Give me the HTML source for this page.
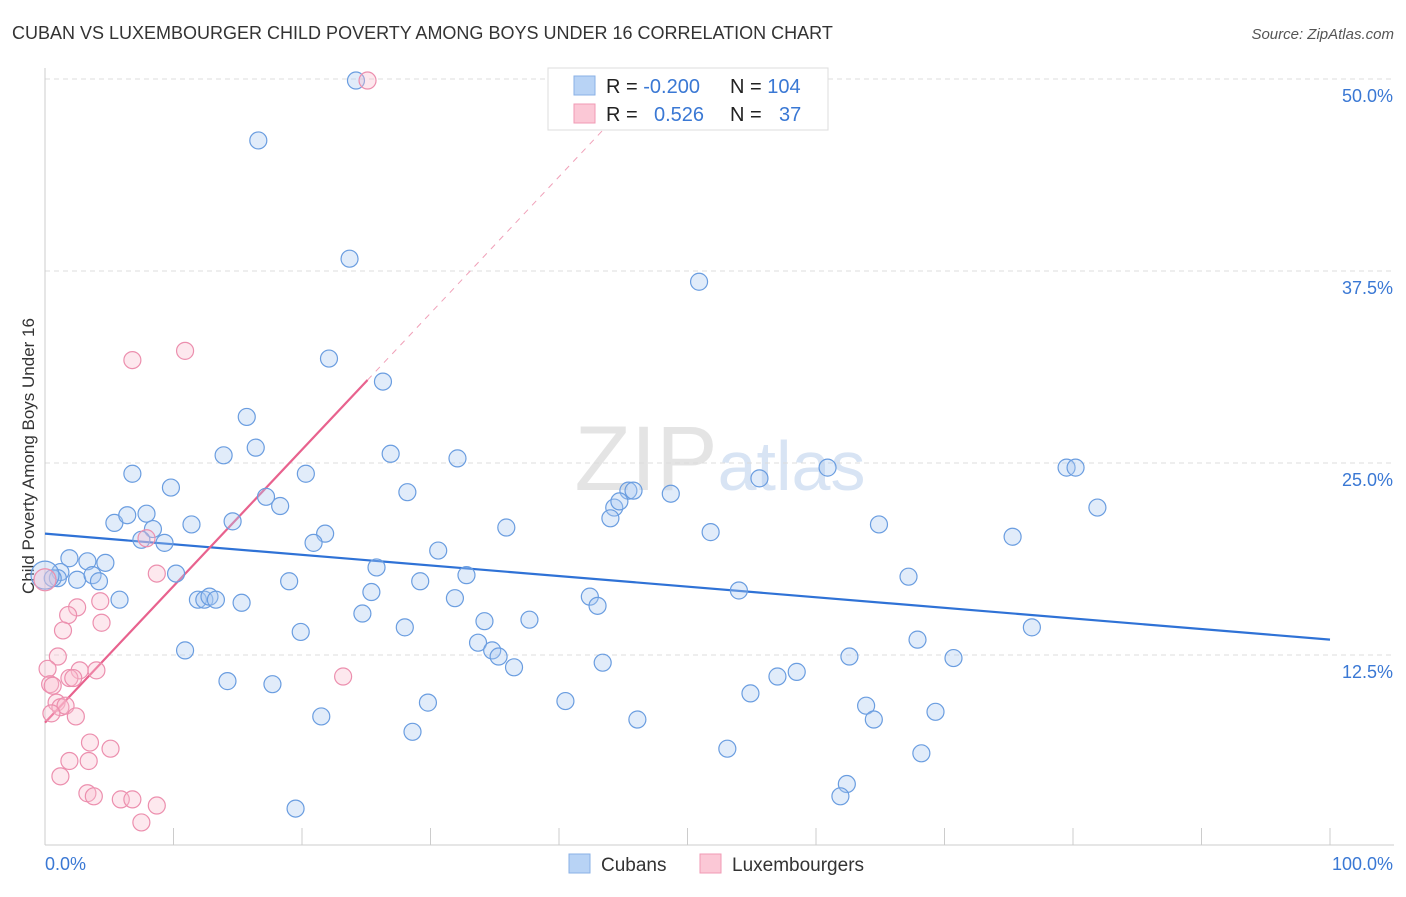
<!DOCTYPE html>
<html><head><meta charset="utf-8"><style>
body{margin:0;background:#fff;font-family:"Liberation Sans",sans-serif;}
svg text{font-family:"Liberation Sans",sans-serif;}
</style></head><body>
<svg id="c" width="1406" height="892" xmlns="http://www.w3.org/2000/svg">
<text x="12" y="39" font-size="18" fill="#333">CUBAN VS LUXEMBOURGER CHILD POVERTY AMONG BOYS UNDER 16 CORRELATION CHART</text>
<text x="1394" y="39" font-size="15" fill="#555" text-anchor="end" font-style="italic">Source: ZipAtlas.com</text>
<text x="720" y="490" font-size="92" fill="#e4e4e4" text-anchor="middle" font-family="Liberation Serif">ZIP<tspan fill="#d8e4f4" font-family="Liberation Sans" font-size="70">atlas</tspan></text>
<text transform="translate(34,456) rotate(-90)" font-size="17" fill="#333" text-anchor="middle">Child Poverty Among Boys Under 16</text>
<g id="grid"></g><g id="axes"></g><g id="lines"></g><g id="pts"></g>
<g>
<rect x="548" y="68" width="280" height="62" fill="#fff" stroke="#ddd"/>
<rect x="574" y="76" width="21" height="19" fill="#b8d3f5" stroke="#8ab0e6"/>
<rect x="574" y="104" width="21" height="19" fill="#fbc8d6" stroke="#f09ab4"/>
<text x="606" y="93" font-size="20" fill="#222">R = <tspan fill="#3a78d4">-0.200</tspan><tspan x="730">N = </tspan><tspan fill="#3a78d4">104</tspan></text>
<text x="606" y="121" font-size="20" fill="#222">R = <tspan x="654" fill="#3a78d4">0.526</tspan><tspan x="730">N = </tspan><tspan x="779" fill="#3a78d4">37</tspan></text>
</g>
<g>
<rect x="569" y="854" width="21" height="19" fill="#b8d3f5" stroke="#8ab0e6"/>
<text x="601" y="871" font-size="19" fill="#333">Cubans</text>
<rect x="700" y="854" width="21" height="19" fill="#fbc8d6" stroke="#f09ab4"/>
<text x="732" y="871" font-size="19" fill="#333">Luxembourgers</text>
</g>
</svg>
<script>
const yTicks=[12.5,25,37.5,50];
const yTickLabels=["12.5%","25.0%","37.5%","50.0%"];
const xTicks=[0,10,20,30,40,50,60,70,80,90,100];
const blueX=[16.6,24.2,23.7,50.9,22.1,26.3,15.7,16.4,13.9,26.9,32.1,6.8,9.8,20.3,17.2,18.3,28.2,60.9,55.6,79.5,80.2,81.9,45.4,45.8,48.7,44.3,44.7,44.0,5.4,6.4,7.9,11.4,14.6,8.4,7.5,9.3,21.8,20.9,35.9,51.8,64.9,75.3,30.6,1.9,3.3,4.7,1.2,1.0,2.5,3.7,4.2,0.6,10.2,25.8,32.8,19.0,29.2,54.0,67.2,5.8,11.9,12.4,12.8,13.3,15.3,25.4,31.9,42.4,43.0,24.7,34.2,37.7,28.0,19.9,76.8,67.9,33.7,10.9,34.8,35.3,36.5,62.6,70.7,43.4,58.5,57.0,14.2,17.7,29.8,40.5,54.9,63.9,69.3,21.5,46.1,64.5,28.6,53.1,68.2,62.4,61.9,19.5];
const blueY=[46.0,49.9,38.3,36.8,31.8,30.3,28.0,26.0,25.5,25.6,25.3,24.3,23.4,24.3,22.8,22.2,23.1,24.7,24.0,24.7,24.7,22.1,23.2,23.2,23.0,22.1,22.5,21.4,21.1,21.6,21.7,21.0,21.2,20.7,20.0,19.8,20.4,19.8,20.8,20.5,21.0,20.2,19.3,18.8,18.6,18.5,17.9,17.5,17.4,17.7,17.3,17.5,17.8,18.2,17.7,17.3,17.3,16.7,17.6,16.1,16.1,16.1,16.3,16.1,15.9,16.6,16.2,16.3,15.7,15.2,14.7,14.8,14.3,14.0,14.3,13.5,13.3,12.8,12.8,12.4,11.7,12.4,12.3,12.0,11.4,11.1,10.8,10.6,9.4,9.5,10.0,9.2,8.8,8.5,8.3,8.3,7.5,6.4,6.1,4.1,3.3,2.5];
const pinkX=[25.1,10.9,6.8,7.9,8.7,4.3,2.5,1.8,4.4,1.4,1.0,2.7,4.0,0.2,1.9,2.2,0.4,0.6,23.2,0.9,1.2,1.6,2.4,0.5,3.5,5.1,1.9,3.4,1.2,3.3,3.8,5.9,6.8,8.7,7.5];
const pinkY=[49.9,32.3,31.7,20.1,17.8,16.0,15.6,15.1,14.6,14.1,12.4,11.5,11.5,11.6,11.0,11.0,10.6,10.5,11.1,9.4,9.1,9.2,8.5,8.7,6.8,6.4,5.6,5.6,4.6,3.5,3.3,3.1,3.1,2.7,1.6];
const bigX=[0,0], bigY=[17.7,17.4];
const blueTrend=[[0,20.4],[100,13.5]];
const pinkTrend=[[0,8.1],[25.1,30.4]];
const X=v=>45+v*12.85, Y=v=>847-v*15.36;
const NS="http://www.w3.org/2000/svg";
function mk(p,t,a){const e=document.createElementNS(NS,t);for(const k in a)e.setAttribute(k,a[k]);document.getElementById(p).appendChild(e);return e;}
yTicks.forEach((t,i)=>{
 let l=mk('grid','line',{x1:45,x2:1394,y1:Y(t),y2:Y(t),stroke:'#ddd','stroke-dasharray':'5,4'});
 
 
 let s=mk('grid','text',{x:1393,y:Y(t)+23,'font-size':18,fill:'#3a78d4','text-anchor':'end'});s.textContent=yTickLabels[i];
 
 
});
let ax=mk('axes','line',{x1:45,x2:1394,y1:845,y2:845,stroke:'#ccc'});


let ay=mk('axes','line',{x1:45,x2:45,y1:68,y2:845,stroke:'#ccc'});


xTicks.forEach(t=>{let l=mk('axes','line',{x1:X(t),x2:X(t),y1:828,y2:845,stroke:'#ccc'});
 
 });
let x0=mk('axes','text',{x:45,y:870,'font-size':18,fill:'#3a78d4'});x0.textContent='0.0%';


let x1=mk('axes','text',{x:1393,y:870,'font-size':18,fill:'#3a78d4','text-anchor':'end'});x1.textContent='100.0%';


function pt(x,y,c,s,r,n){const e=mk('pts','circle',{cx:X(x),cy:Y(y),r:r,fill:c,'fill-opacity':0.35,stroke:s,'stroke-width':1.2});
 
 }
blueX.forEach((x,i)=>pt(x,blueY[i],'#a9c8f0','#6a9de0',8.5,'cuban-point'));
pinkX.forEach((x,i)=>pt(x,pinkY[i],'#f8bccd','#ec8fae',8.5,'luxembourger-point'));
pt(bigX[0],bigY[0],'#a9c8f0','#6a9de0',14,'cuban-point-large');
pt(bigX[1],bigY[1],'#f8bccd','#ec8fae',11,'luxembourger-point-large');
const sl=(pinkTrend[1][1]-pinkTrend[0][1])/(pinkTrend[1][0]-pinkTrend[0][0]);
const xe=(50-pinkTrend[0][1])/sl;
let pd=mk('lines','line',{x1:X(pinkTrend[1][0]),y1:Y(pinkTrend[1][1]),x2:X(xe),y2:Y(50),stroke:'#f0a0b8','stroke-dasharray':'6,6','stroke-width':1});


let bl=mk('lines','line',{x1:X(blueTrend[0][0]),y1:Y(blueTrend[0][1]),x2:X(blueTrend[1][0]),y2:Y(blueTrend[1][1]),stroke:'#2f72d6','stroke-width':2.2});


let pl=mk('lines','line',{x1:X(pinkTrend[0][0]),y1:Y(pinkTrend[0][1]),x2:X(pinkTrend[1][0]),y2:Y(pinkTrend[1][1]),stroke:'#e8628e','stroke-width':2.2});


</script>
</body></html>
